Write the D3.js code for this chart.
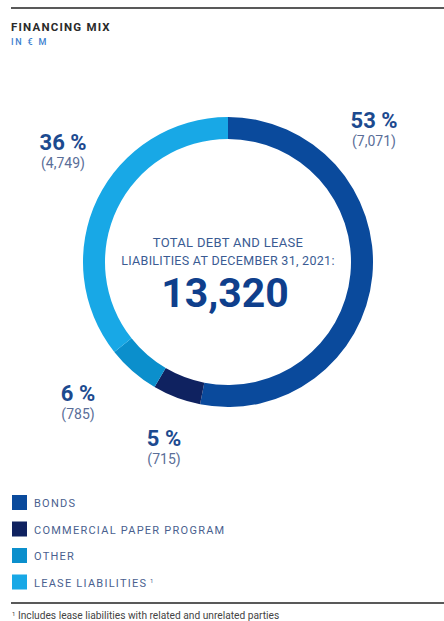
<!DOCTYPE html>
<html>
<head>
<meta charset="utf-8">
<script src="https://cdn.jsdelivr.net/npm/d3@7/dist/d3.min.js"></script>
<style>
  html, body { margin: 0; padding: 0; background: #fff; }
  svg { display: block; font-family: Roboto, "Open Sans", sans-serif; }
</style>
</head>
<body>
<svg id="chart" width="444" height="621"></svg>
<script>
// Financing mix, in € million, at December 31, 2021
const categories = ["BONDS", "COMMERCIAL PAPER PROGRAM", "OTHER", "LEASE LIABILITIES"];
const values = [7071, 715, 785, 4749];
const percentLabels = ["53 %", "5 %", "6 %", "36 %"];
const amountLabels = ["(7,071)", "(715)", "(785)", "(4,749)"];
const totalLabel = "13,320";
const colors = ["#0a4a9c", "#0f2260", "#0b8fcc", "#18a8e6"];

const svg = d3.select("#chart");
const W = 444;

// header rule + title
svg.append("line").attr("x1", 11).attr("x2", W).attr("y1", 8).attr("y2", 8)
  .attr("stroke", "#222").attr("stroke-width", 1.6);
svg.append("text").attr("x", 11).attr("y", 31)
  .attr("font-size", 11.5).attr("font-weight", 700).attr("letter-spacing", 1.2)
  .attr("fill", "#2a2a2a").text("FINANCING MIX");
svg.append("text").attr("x", 11).attr("y", 45)
  .attr("font-size", 9).attr("letter-spacing", 1.8).attr("font-weight", 500)
  .attr("fill", "#3d7fcf").text("IN € M");

// donut
const cx = 228, cy = 262, rOuter = 145, rInner = 123;
const pie = d3.pie().sort(null).value(d => d);
const arcs = pie(values);
const arc = d3.arc().innerRadius(rInner).outerRadius(rOuter);
const g = svg.append("g").attr("transform", `translate(${cx},${cy})`);
g.selectAll("path").data(arcs).join("path")
  .attr("d", arc).attr("fill", (d, i) => colors[i]);

// slice labels: percentage over amount, set beside each slice
const labelAnchors = [[374, 128], [164, 446], [78, 401], [63, 150]];
labelAnchors.forEach(([x, y], i) => {
  const lg = svg.append("g").attr("transform", `translate(${x},${y})`);
  lg.append("text").attr("text-anchor", "middle").attr("y", 0)
    .attr("font-size", 22).attr("font-weight", 700).attr("fill", "#1c4a8f")
    .text(percentLabels[i]);
  lg.append("text").attr("text-anchor", "middle").attr("y", 18)
    .attr("font-size", 14).attr("fill", "#5a6e98")
    .text(amountLabels[i]);
});

// centre caption
g.append("text").attr("text-anchor", "middle").attr("y", -15)
  .attr("font-size", 13).attr("fill", "#3a5b93").attr("letter-spacing", 0.3)
  .text("TOTAL DEBT AND LEASE");
g.append("text").attr("text-anchor", "middle").attr("y", 3)
  .attr("font-size", 12.5).attr("fill", "#3a5b93").attr("letter-spacing", 0.3)
  .text("LIABILITIES AT DECEMBER 31, 2021:");
g.append("text").attr("text-anchor", "middle").attr("y", 45).attr("x", -3)
  .attr("font-size", 41).attr("font-weight", 700).attr("fill", "#0f3f8c")
  .text(totalLabel);

// legend
const legend = svg.append("g").attr("transform", "translate(12,495)");
categories.forEach((c, i) => {
  const row = legend.append("g").attr("transform", `translate(0,${i * 26.5})`);
  row.append("rect").attr("width", 15).attr("height", 15).attr("fill", colors[i]);
  const t = row.append("text").attr("x", 22).attr("y", 12)
    .attr("font-size", 11).attr("letter-spacing", 1.25).attr("fill", "#4a5f8f")
    .text(c);
  if (i === 3) {
    t.append("tspan").attr("dy", -4).attr("font-size", 6).text(" 1");
  }
});

// footer rule + footnote
svg.append("line").attr("x1", 11).attr("x2", W).attr("y1", 603).attr("y2", 603)
  .attr("stroke", "#222").attr("stroke-width", 1.4);
const fn = svg.append("text").attr("x", 12).attr("y", 619)
  .attr("font-size", 10.2).attr("fill", "#444");
fn.append("tspan").attr("font-size", 6).attr("dy", -3).text("1");
fn.append("tspan").attr("dy", 3).text(" Includes lease liabilities with related and unrelated parties");
</script>
</body>
</html>
